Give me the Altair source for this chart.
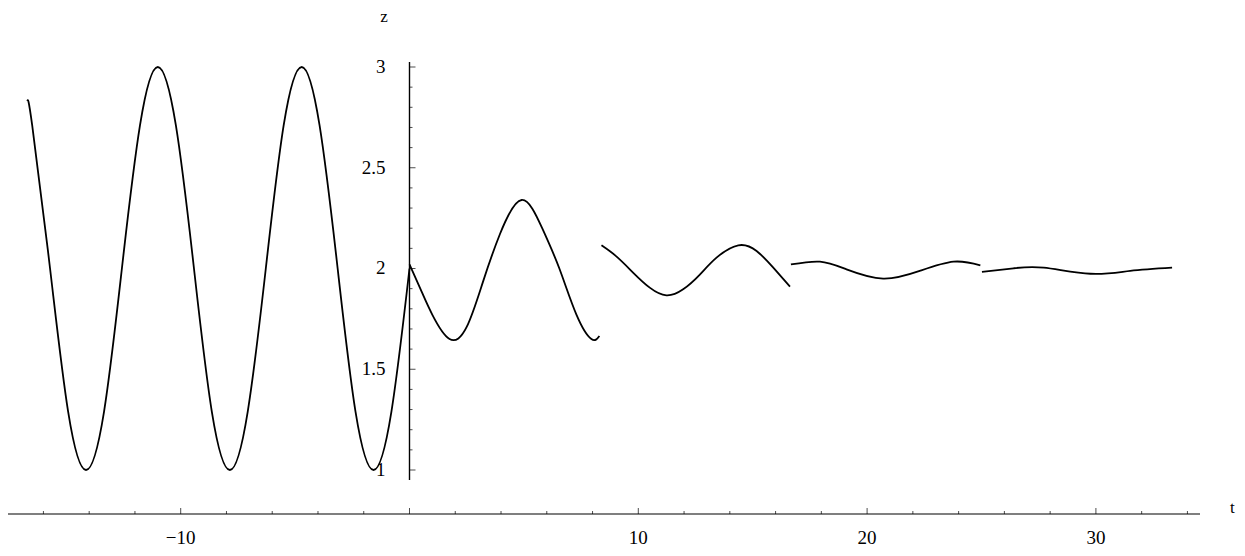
import altair as alt
import pandas as pd

# ---- curve segments (t, z) ----
seg1_t = [-16.7, -16.49, -15.71, -14.92, -14.14, -13.35, -12.57, -11.78, -11.0, -10.21,
          -9.42, -8.64, -7.85, -7.07, -6.28, -5.5, -4.71, -3.93, -3.14, -2.36, -1.57, -0.79, 0.0]
seg1_z = [2.83, 2.71, 2.0, 1.29, 1.0, 1.29, 2.0, 2.71, 3.0, 2.71,
          2.0, 1.29, 1.0, 1.29, 2.0, 2.71, 3.0, 2.71, 2.0, 1.29, 1.0, 1.29, 2.0]

seg2_t = [0.0, 0.55, 1.0, 1.75, 2.5, 3.2, 3.95, 4.9, 5.8, 6.55, 7.3, 7.95, 8.3]
seg2_z = [2.02, 1.88, 1.77, 1.65, 1.71, 1.93, 2.17, 2.34, 2.20, 2.0, 1.77, 1.65, 1.665]

seg3_t = [8.39, 9.04, 9.77, 10.5, 11.23, 11.96, 12.69, 13.42, 14.37, 15.17, 15.9, 16.63]
seg3_z = [2.115, 2.06, 1.98, 1.905, 1.867, 1.897, 1.97, 2.054, 2.115, 2.087, 2.004, 1.91]

seg4_t = [16.67, 17.94, 19.1, 20.7, 22.3, 23.78, 24.95]
seg4_z = [2.02, 2.034, 1.996, 1.95, 1.988, 2.034, 2.016]

seg5_t = [25.02, 26.4, 27.72, 29.76, 31.5, 33.33]
seg5_z = [1.983, 2.001, 2.004, 1.974, 1.988, 2.004]

# ---- axis ticks / labels ----
x_major = [-10, 0, 10, 20, 30]
x_minor = [-16, -14, -12, -8, -6, -4, -2, 2, 4, 6, 8, 12, 14, 16, 18, 22, 24, 26, 28, 32, 34]
x_label_vals = [-10, 10, 20, 30]
x_label_txt = ["\u221210", "10", "20", "30"]
y_major = [1, 1.5, 2, 2.5, 3]
y_minor = [1.1, 1.2, 1.3, 1.4, 1.6, 1.7, 1.8, 1.9, 2.1, 2.2, 2.3, 2.4, 2.6, 2.7, 2.8, 2.9]
y_label_txt = ["1", "1.5", "2", "2.5", "3"]

# layout constants
X_AXIS_Z = 0.7816
Y_AXIS_RANGE = [0.95, 3.025]
X_AXIS_RANGE = [-17.6, 34.55]
W, H = 1229, 540
XDOM = [-17.548, 36.167]
YDOM = [0.6129, 3.2928]
FONT = "Liberation Serif"

rows = []
for sid, (ts, zs) in enumerate([(seg1_t, seg1_z), (seg2_t, seg2_z), (seg3_t, seg3_z),
                                (seg4_t, seg4_z), (seg5_t, seg5_z)]):
    for t, z in zip(ts, zs):
        rows.append({"seg": sid, "t": t, "z": z})
curve_df = pd.DataFrame(rows)

xs = alt.Scale(domain=XDOM, nice=False, zero=False)
ys = alt.Scale(domain=YDOM, nice=False, zero=False)

curve = alt.Chart(curve_df).mark_line(
    interpolate="natural", color="black", strokeWidth=1.8
).encode(
    x=alt.X("t:Q", scale=xs, axis=None),
    y=alt.Y("z:Q", scale=ys, axis=None),
    detail="seg:N",
    order="t:Q",
)

xaxis_df = pd.DataFrame({"x1": [X_AXIS_RANGE[0]], "x2": [X_AXIS_RANGE[1]], "y": [X_AXIS_Z]})
xaxis = alt.Chart(xaxis_df).mark_rule(color="black", strokeWidth=1.2).encode(
    x=alt.X("x1:Q", scale=xs, axis=None), x2="x2:Q",
    y=alt.Y("y:Q", scale=ys, axis=None))

yaxis_df = pd.DataFrame({"x": [0.0], "y1": [Y_AXIS_RANGE[0]], "y2": [Y_AXIS_RANGE[1]]})
yaxis = alt.Chart(yaxis_df).mark_rule(color="black", strokeWidth=1.4).encode(
    x=alt.X("x:Q", scale=xs, axis=None),
    y=alt.Y("y1:Q", scale=ys, axis=None), y2="y2:Q")

xmaj_df = pd.DataFrame({"t": x_major, "z": [X_AXIS_Z] * len(x_major)})
xmin_df = pd.DataFrame({"t": x_minor, "z": [X_AXIS_Z] * len(x_minor)})
xmaj = alt.Chart(xmaj_df).mark_tick(orient="vertical", size=6, thickness=1, color="black", yOffset=-3).encode(
    x=alt.X("t:Q", scale=xs, axis=None), y=alt.Y("z:Q", scale=ys, axis=None))
xmin = alt.Chart(xmin_df).mark_tick(orient="vertical", size=3, thickness=1, color="black", yOffset=-1.5).encode(
    x=alt.X("t:Q", scale=xs, axis=None), y=alt.Y("z:Q", scale=ys, axis=None))

ymaj_df = pd.DataFrame({"t": [0.0] * len(y_major), "z": y_major})
ymin_df = pd.DataFrame({"t": [0.0] * len(y_minor), "z": y_minor})
ymaj = alt.Chart(ymaj_df).mark_tick(orient="horizontal", size=6, thickness=1, color="black", xOffset=3).encode(
    x=alt.X("t:Q", scale=xs, axis=None), y=alt.Y("z:Q", scale=ys, axis=None))
ymin = alt.Chart(ymin_df).mark_tick(orient="horizontal", size=3, thickness=1, color="black", xOffset=1.5).encode(
    x=alt.X("t:Q", scale=xs, axis=None), y=alt.Y("z:Q", scale=ys, axis=None))

xlab_df = pd.DataFrame({"t": x_label_vals, "z": [X_AXIS_Z] * len(x_label_vals), "txt": x_label_txt})
xlab = alt.Chart(xlab_df).mark_text(font=FONT, fontSize=19, color="black", baseline="middle",
                                    align="center", dy=24).encode(
    x=alt.X("t:Q", scale=xs, axis=None), y=alt.Y("z:Q", scale=ys, axis=None), text="txt:N")

ylab_df = pd.DataFrame({"t": [0.0] * len(y_major), "z": y_major, "txt": y_label_txt})
ylab = alt.Chart(ylab_df).mark_text(font=FONT, fontSize=19, color="black", baseline="middle",
                                    align="right", dx=-24).encode(
    x=alt.X("t:Q", scale=xs, axis=None), y=alt.Y("z:Q", scale=ys, axis=None), text="txt:N")

zlab = alt.Chart(pd.DataFrame({"txt": ["z"]})).mark_text(
    font=FONT, fontSize=17, color="black", baseline="top", align="center"
).encode(x=alt.value(376), y=alt.value(1), text="txt:N")

tlab = alt.Chart(pd.DataFrame({"txt": ["t"]})).mark_text(
    font=FONT, fontSize=17, color="black", baseline="middle", align="left"
).encode(x=alt.value(1222), y=alt.value(500), text="txt:N")

chart = alt.layer(curve, xaxis, yaxis, xmaj, xmin, ymaj, ymin, xlab, ylab, zlab, tlab).properties(
    width=W, height=H, autosize=alt.AutoSizeParams(type="none"), padding=0, background="white"
).configure_view(stroke=None)

chart.save("out.html", embed_options={"renderer": "svg", "actions": False})
